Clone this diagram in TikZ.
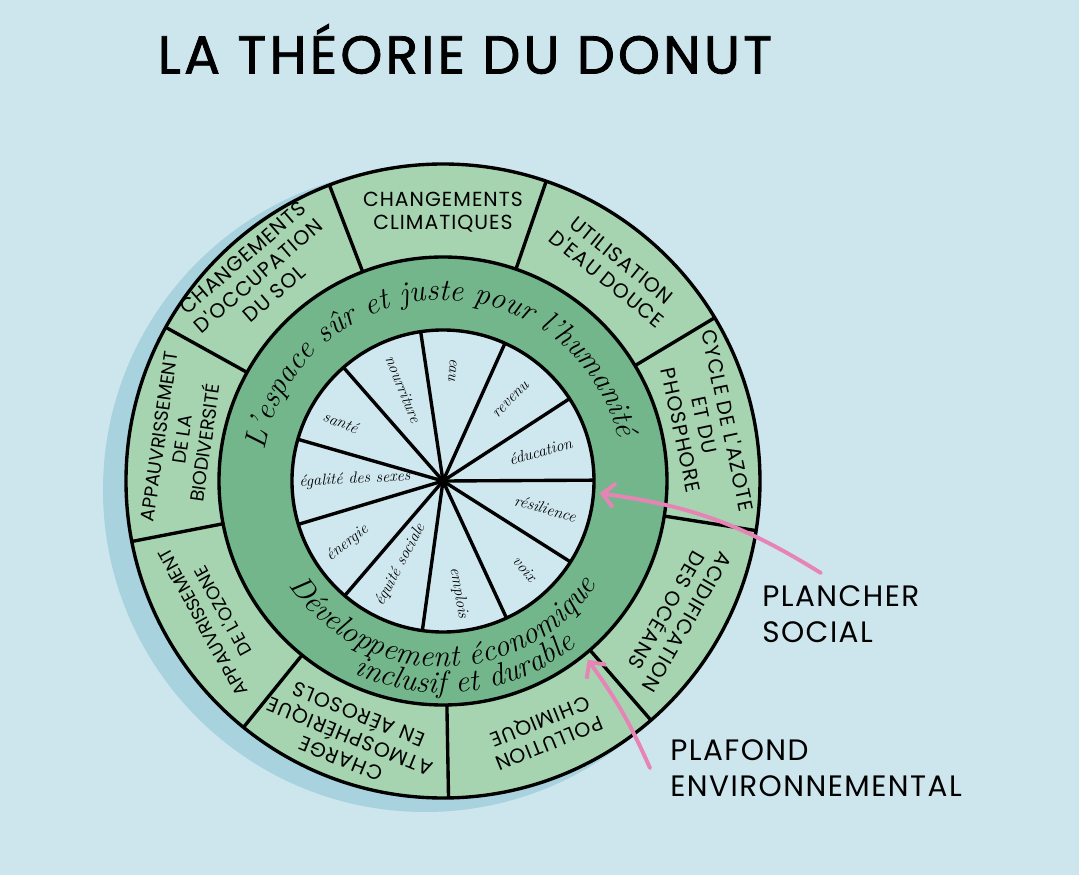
\documentclass[tikz,border=0pt]{standalone}
\usepackage{fontspec}
\newfontfamily\handfont{Poppins}[LetterSpace=5]
\newfontfamily\plainhand{Poppins}
\newfontfamily\titlefont{Poppins}[LetterSpace=6, FakeBold=1.5]
\usetikzlibrary{arrows.meta,decorations.text}

\definecolor{sky}{HTML}{CDE6EE}
\definecolor{shadowblue}{HTML}{A8D3DE}
\definecolor{leaf}{HTML}{A7D4B0}
\definecolor{moss}{HTML}{74B68B}
\definecolor{pie}{HTML}{CFE7EF}
\definecolor{rose}{HTML}{E784B6}
\newcommand\ringfont{\itshape\fontsize{22}{22}\selectfont}

\begin{document}
\begin{tikzpicture}[
    ink/.style={draw=black, line width=2.4pt},
    bound/.style={font=\handfont\fontsize{14.5}{17}\selectfont, align=center, inner sep=1pt},
    longbound/.style={font=\plainhand\fontsize{13}{16.5}\selectfont, align=center, inner sep=1pt},
    need/.style={font=\itshape\fontsize{11.5}{12}\selectfont, inner sep=1pt},
    callout/.style={font=\handfont\fontsize{21}{26}\selectfont, align=left, anchor=north west, inner sep=0pt},
    pinkarrow/.style={draw=rose, line width=2.8pt, line cap=round, -{Straight Barb[length=0.3cm,width=0.6cm]}}]
  % Background
  \fill[sky] (-11.075,-9.85) rectangle (15.9,12.025);
  \useasboundingbox (-11.075,-9.85) rectangle (15.9,12.025);
  % Title
  \node (title) [font=\titlefont\fontsize{38}{40}\selectfont] at (0.55,10.8) {LA THÉORIE DU DONUT};
  % Shadow behind the donut
  \fill[shadowblue] (-0.45,-0.225) circle (8.05);
  % Outer ring: environmental ceiling
  \filldraw[ink, fill=leaf] (0,0) circle (7.925);
  \foreach \a in {31,71,...,351}
    \draw[ink] (\a:5.6) -- (\a:7.925);
  % Middle ring
  \filldraw[ink, fill=moss] (0,0) circle (5.6);
  % Inner pie: social floor
  \filldraw[ink, fill=pie] (0,0) circle (3.775);
  \foreach \k in {0,...,10}
    \draw[ink] (0,0) -- (98.5-32.727*\k:3.775);
  % Outer labels
  \node (climat)   [bound] at (90:6.72) {CHANGEMENTS\\CLIMATIQUES};
  \node (eaudouce) [bound, rotate=-39] at (51:6.8) {UTILISATION\\D'EAU DOUCE};
  \node (azote)    [bound, rotate=-78] at (12:6.7) {CYCLE DE L'AZOTE\\ET DU\\PHOSPHORE};
  \node (ocean)    [bound, rotate=-120] at (-30:6.75) {ACIDIFICATION\\DES OCÉANS};
  \node (chimie)   [bound, rotate=-158] at (-68:6.75) {POLLUTION\\CHIMIQUE};
  \node (aerosol)  [bound, rotate=158] at (-110:6.8) {CHARGE\\ATMOSPHÉRIQUE\\EN AÉROSOLS};
  \node (ozone)    [longbound, rotate=119] at (-149.5:6.68) {APPAUVRISSEMENT\\DE L'OZONE};
  \node (biodiv)   [longbound, font=\plainhand\fontsize{13.5}{16.5}\selectfont, rotate=82] at (171:6.6) {APPAUVRISSEMENT\\DE LA\\BIODIVERSITÉ};
  \node (sol)      [bound, rotate=41] at (132:6.9) {CHANGEMENTS\\D'OCCUPATION\\DU SOL};
  % Middle ring texts
  \path[decorate, decoration={text along path, text align=center,
      text={|\ringfont|L'espace sûr et juste pour l'humanité}}]
    (171:4.52) arc[start angle=171, end angle=13, radius=4.52];
  \path[decorate, decoration={text along path, text align=center,
      text={|\ringfont|Développement économique}}]
    (-150:4.65) arc[start angle=-150, end angle=-30, radius=4.65];
  \path[decorate, decoration={text along path, text align=center,
      text={|\ringfont|inclusif et durable}}]
    (-143:5.3) arc[start angle=-143, end angle=-23, radius=5.3];
  % Pie labels
  \foreach \nm/\a/\r/\rot/\lab in {water/85/2.78/-95/eau, food/113.5/2.5/-68/nourriture,
      income/50/2.65/45/revenu, school/17/2.55/16/éducation, resil/-15/2.65/-16/résilience,
      voice/-47/3.0/-49/voix, jobs/-82/2.83/-80/emplois, equity/-117/2.35/62/équité sociale,
      energy/-147/2.85/38/énergie, gender/179/2.2/3/égalité des sexes, health/150/2.95/-21/santé}
    \node (\nm) [need, rotate=\rot] at (\a:\r) {\lab};
  % Callouts
  \node (plancher) [callout] at (7.975,-2.6) {PLANCHER\\SOCIAL};
  \node (plafond)  [callout] at (5.675,-6.45) {PLAFOND\\ENVIRONNEMENTAL};
  \coordinate (socialfloor) at (-4.5:3.93);
  \coordinate (envceiling) at (-51:5.75);
  \draw[pinkarrow] ([xshift=-0.5cm,yshift=0.3cm]plancher.north) to[bend right=12] (socialfloor);
  \draw[pinkarrow] ([xshift=-0.5cm]plafond.west) to[bend right=6] (envceiling);
\end{tikzpicture}
\end{document}
